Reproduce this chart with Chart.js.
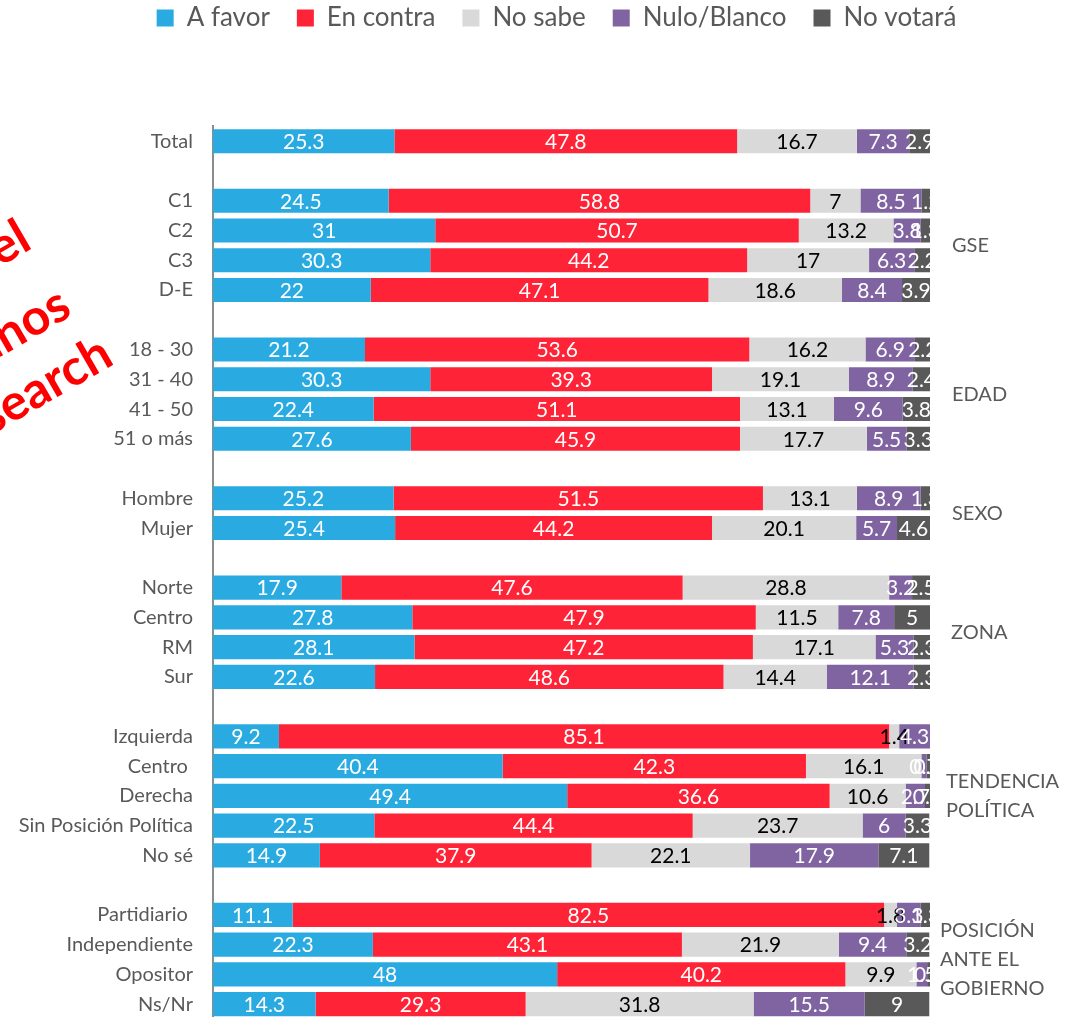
<!DOCTYPE html>
<html><head><meta charset="utf-8">
<script src="https://cdn.jsdelivr.net/npm/chart.js@4.4.0/dist/chart.umd.min.js"></script>
<style>
html,body{margin:0;padding:0;background:#fff;overflow:hidden;}
#wrap{position:relative;width:1084px;height:1019px;}
.wm{position:absolute;font-family:Lato,sans-serif;font-weight:bold;font-size:50px;color:#f00;white-space:nowrap;transform-origin:right center;transform:rotate(-30deg);line-height:50px;}
</style></head><body>
<div id="wrap"><canvas id="c"></canvas>
<div class="wm" style="right:1060px;top:206px">Gráfico del</div>
<div class="wm" style="right:1020px;top:273px">Ciudadanos</div>
<div class="wm" style="right:978px;top:322px">Activa Research</div>
</div>
<script>
const categories = ['Total','','C1','C2','C3','D-E','','18 - 30','31 - 40','41 - 50','51 o más','','Hombre','Mujer','','Norte','Centro','RM','Sur','','Izquierda','Centro ','Derecha','Sin Posición Política','No sé','','Partidiario ','Independiente','Opositor','Ns/Nr'];
const aFavor   = [25.3,null,24.5,31,30.3,22,null,21.2,30.3,22.4,27.6,null,25.2,25.4,null,17.9,27.8,28.1,22.6,null,9.2,40.4,49.4,22.5,14.9,null,11.1,22.3,48,14.3];
const enContra = [47.8,null,58.8,50.7,44.2,47.1,null,53.6,39.3,51.1,45.9,null,51.5,44.2,null,47.6,47.9,47.2,48.6,null,85.1,42.3,36.6,44.4,37.9,null,82.5,43.1,40.2,29.3];
const noSabe   = [16.7,null,7,13.2,17,18.6,null,16.2,19.1,13.1,17.7,null,13.1,20.1,null,28.8,11.5,17.1,14.4,null,1.4,16.1,10.6,23.7,22.1,null,1.8,21.9,9.9,31.8];
const nulo     = [7.3,null,8.5,3.8,6.3,8.4,null,6.9,8.9,9.6,5.5,null,8.9,5.7,null,3.2,7.8,5.3,12.1,null,4.3,0.7,2.7,6,17.9,null,3.3,9.4,1.5,15.5];
const noVotara = [2.9,null,1.2,1.3,2.2,3.9,null,2.2,2.4,3.8,3.3,null,1.3,4.6,null,2.5,5,2.3,2.3,null,0,0.5,0.7,3.3,7.1,null,1.3,3.2,0.4,9];
const seriesNames = ['A favor','En contra','No sabe','Nulo/Blanco','No votará'];
const groupLabels = [['GSE'],['EDAD'],['SEXO'],['ZONA'],['TENDENCIA','POLÍTICA'],['POSICIÓN','ANTE EL','GOBIERNO']];
const groupRows = [[2,5],[7,10],[12,13],[15,18],[20,24],[26,29]];

const seriesColors = ['#29ABE2','#FE2336','#D9D9D9','#8064A2','#595959'];
const labelColors = ['#ffffff','#ffffff','#000000','#ffffff','#ffffff'];
const seriesData = [aFavor, enContra, noSabe, nulo, noVotara];

const datasets = seriesNames.map((n,i)=>({
  label:n, data:seriesData[i], backgroundColor:seriesColors[i], borderWidth:0,
  barPercentage:0.81, categoryPercentage:1
}));

const valueLabels = {
  id:'valueLabels',
  afterDatasetsDraw(chart){
    const {ctx, chartArea:a} = chart;
    ctx.save();
    ctx.beginPath(); ctx.rect(a.left, a.top, a.right-a.left, a.bottom-a.top); ctx.clip();
    ctx.font = '21px Lato'; ctx.textAlign='center'; ctx.textBaseline='middle';
    chart.data.datasets.forEach((ds,i)=>{
      const meta = chart.getDatasetMeta(i);
      meta.data.forEach((el,j)=>{
        const v = ds.data[j];
        if (v==null || v===0) return;
        const p = el.getProps(['x','base','y'], true);
        ctx.fillStyle = labelColors[i];
        ctx.fillText(String(v), (p.x+p.base)/2, p.y+1);
      });
    });
    ctx.restore();
  }
};

const groupText = {
  id:'groupText',
  afterDraw(chart){
    const {ctx} = chart; const ys = chart.scales.y;
    const xs = [952,952,952,951,946,940];
    ctx.save();
    ctx.font = '20px Lato'; ctx.fillStyle = '#595959'; ctx.textAlign='left'; ctx.textBaseline='middle';
    groupLabels.forEach((lines,k)=>{
      const yc = (ys.getPixelForValue(groupRows[k][0]) + ys.getPixelForValue(groupRows[k][1]))/2;
      lines.forEach((t,m)=>{
        ctx.fillText(t, xs[k], yc + (m-(lines.length-1)/2)*29);
      });
    });
    ctx.restore();
  }
};

const legendLayout = {
  id:'legendLayout',
  beforeInit(chart){
    const lg = chart.legend; if(!lg) return;
    const fit = lg.fit;
    lg.fit = function(){ fit.call(this); this.height = 126.4; };
  },
  afterLayout(chart){
    const lg = chart.legend; if (!lg) return;
    const w = lg.right - lg.left;
    lg.top = -22; lg.left = 91.5; lg.right = 91.5 + w;
  }
};

new Chart(document.getElementById('c'), {
  type:'bar',
  data:{labels:categories, datasets},
  options:{
    indexAxis:'y', responsive:true, maintainAspectRatio:false, animation:false,
    layout:{padding:{left:0,right:154,top:0,bottom:0}},
    scales:{
      x:{display:false, stacked:true, min:0, max:100},
      y:{stacked:true,
         grid:{display:false, drawTicks:false},
         border:{display:true, color:'#8c8c8c', width:2},
         ticks:{color:'#595959', font:{family:'Lato', size:20}, padding:20, autoSkip:false},
         afterFit(s){ s.width = 213; s.paddingTop = 0; s.paddingBottom = 0; }
      }
    },
    plugins:{
      legend:{position:'top', labels:{boxWidth:17, boxHeight:17, color:'#595959', font:{family:'Lato', size:26}, padding:27}},
      tooltip:{enabled:false}
    }
  },
  plugins:[legendLayout, valueLabels, groupText]
});
</script>
</body></html>
